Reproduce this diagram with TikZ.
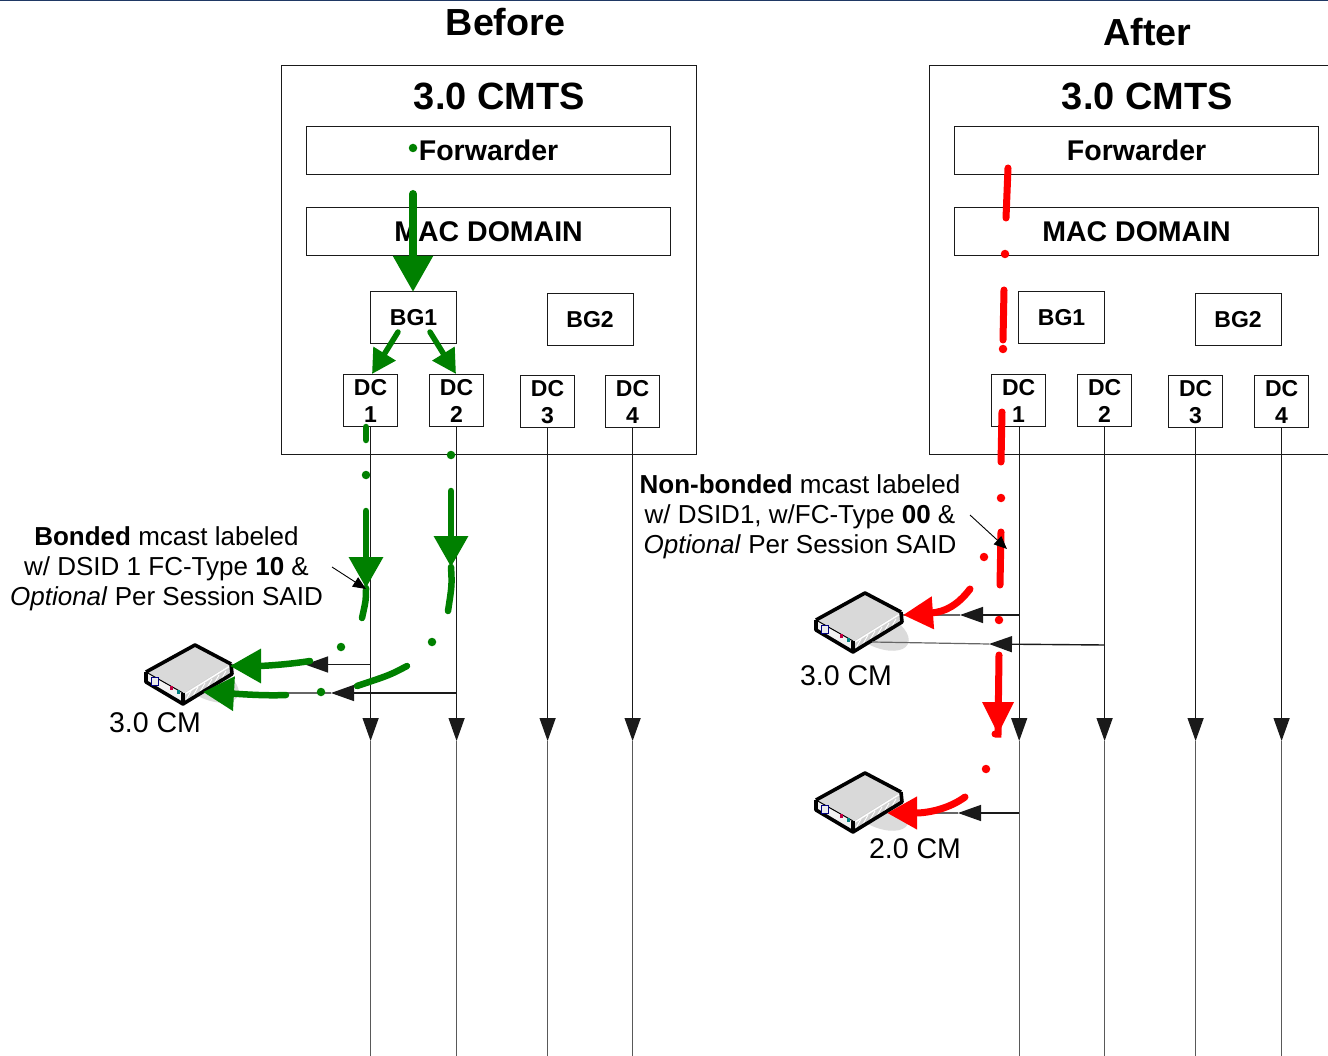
\documentclass[tikz,border=0pt]{standalone}
\usepackage{fontspec}
\setmainfont{Liberation Sans}
\usetikzlibrary{arrows.meta}
\definecolor{gr}{HTML}{008000}
\definecolor{rd}{HTML}{FF0000}
\definecolor{ink}{HTML}{1A1A1A}
\definecolor{rule}{HTML}{1F3864}
\newcommand{\fs}[1]{\fontsize{#1pt}{#1pt}\selectfont}
\tikzset{
  x=1pt,y=-1pt,
  box/.style={draw=ink,line width=0.9pt,inner sep=0pt,align=center,font=\fs{28.5}\bfseries},
  bgbox/.style={box,minimum width=86pt,minimum height=52pt,font=\fs{23}\bfseries},
  dcbox/.style={box,minimum width=54pt,minimum height=52pt,font=\fontsize{23pt}{27pt}\selectfont\bfseries},
  longbox/.style={box,minimum width=364pt,minimum height=48pt},
  title/.style={inner sep=0pt,font=\fs{37.7}\bfseries},
  cmts/.style={inner sep=0pt,font=\fs{38}\bfseries},
  cmlabel/.style={inner sep=0pt,font=\fs{28.5}},
  note/.style={inner sep=0pt,align=center,font=\fontsize{26pt}{30pt}\selectfont},
  wire/.style={draw=ink,line width=1.4pt},
  wiretip/.style={wire,-{Triangle[length=23pt,width=16pt,color=ink]}},
  feed/.style={draw=ink,line width=1.2pt},
  pointer/.style={draw=black,line width=0.9pt,-{Triangle[length=13pt,width=11pt]}},
  gs/.style={draw=gr,line width=6.5pt,line cap=round},
  rs/.style={draw=rd,line width=7pt,line cap=round},
  gbig/.style={gs,-{Triangle[length=31pt,width=33pt,color=gr]}},
  rbig/.style={rs,-{Triangle[length=30pt,width=31pt,color=rd]}},
  gdot/.style={circle,fill=gr,inner sep=0pt,minimum size=8.5pt},
  rdot/.style={circle,fill=rd,inner sep=0pt,minimum size=8.5pt},
  modem/.pic={
    \fill[black!14,rotate around={-25:(208,682)}] (208,682) ellipse (33 and 17);
    \fill[black!5] (146,672) -- (183,693) -- (183,704) -- (146,682) -- cycle;
    \fill[black!18] (183,693) -- (231,664) -- (232,674) -- (183,704) -- cycle;
    \draw[white,line width=1.4pt] (185,694) -- (230,666);
    \draw[white,line width=.9pt] (186,700) -- (191,691) (193,696) -- (198,687) (200,692) -- (205,683) (207,688) -- (212,679) (214,684) -- (219,675) (221,680) -- (226,671);
    \fill[black!15] (195,645) -- (231,664) -- (183,693) -- (146,672) -- cycle;
    \draw[black,line width=3.6pt,line join=round] (146,672) -- (195,645) -- (231,664);
    \draw[black,line width=1pt] (146,672) -- (183,693);
    \draw[black,line width=3.6pt,line join=round] (146,672) -- (146,682) -- (183,704) -- (232,674) -- (231,664) (183,693) -- (183,704);
    \draw[blue!50!black,line width=.8pt,fill=black!8] (151,677) rectangle (158,685);
    \fill[purple] (169.5,686) rectangle (173,689.5);
    \fill[teal] (176.5,690) rectangle (180,693.5);
  }
}
\begin{document}
\begin{tikzpicture}
\useasboundingbox (0,0) rectangle (1328,1056);
\fill[white] (0,0) rectangle (1328,1056);
\draw[draw=rule,line width=1.2pt] (0,0.5) -- (1328,0.5);

% ---------- Before: frame and blocks
\node[title] (before) at (505.5,22) {Before};
\node[draw=ink,line width=0.9pt,inner sep=0pt,minimum width=414.5pt,minimum height=389pt] (cmtsL) at (488.75,260) {};
\node[cmts] (cmtsLt) at (499.5,96) {3.0 CMTS};
\node[longbox] (fwdL) at (488.6,150.6) {\raisebox{1pt}{Forwarder}};
\node[longbox] (macL) at (488.6,231.6) {\raisebox{0.6pt}{MAC DOMAIN}};
\node[bgbox] (bg1L) at (413.6,317.6) {BG1};
\node[bgbox] (bg2L) at (590.1,319.6) {BG2};
\node[dcbox] (dc1L) at (370.6,400.6) {DC\\1};
\node[dcbox] (dc2L) at (456.6,400.6) {DC\\2};
\node[dcbox] (dc3L) at (547.6,401.6) {DC\\3};
\node[dcbox] (dc4L) at (632.6,401.6) {DC\\4};

% ---------- After: frame and blocks
\node[title] (after) at (1147.5,32.5) {After};
\node[draw=ink,line width=0.9pt,inner sep=0pt,minimum width=414.5pt,minimum height=389pt] (cmtsR) at (1136.75,260) {};
\node[cmts] (cmtsRt) at (1147.5,96) {3.0 CMTS};
\node[longbox] (fwdR) at (1136.6,150.6) {\raisebox{1pt}{Forwarder}};
\node[longbox] (macR) at (1136.6,231.6) {\raisebox{0.6pt}{MAC DOMAIN}};
\node[bgbox] (bg1R) at (1061.6,317.6) {BG1};
\node[bgbox] (bg2R) at (1238.1,319.6) {BG2};
\node[dcbox] (dc1R) at (1018.6,400.6) {DC\\1};
\node[dcbox] (dc2R) at (1104.6,400.6) {DC\\2};
\node[dcbox] (dc3R) at (1195.6,401.6) {DC\\3};
\node[dcbox] (dc4R) at (1281.6,401.6) {DC\\4};

% ---------- Down channels
\foreach \n/\x in {dc1L/370.6,dc2L/456.6,dc3L/547.6,dc4L/632.6,dc1R/1019.2,dc2R/1104.6,dc3R/1195.6,dc4R/1281.6}{
  \coordinate (\n m) at (\x,741);
  \coordinate (\n e) at (\x,1056);
  \draw[wiretip] (\n.south -| \n m) -- (\n m);
  \draw[wire,draw=black!65,line width=1.2pt] (\n m) -- (\n e);
}

% ---------- Modems
\pic (cmL) at (0,0) {modem};
\pic[shift={(670,-52)}] (cmR) {modem};
\pic[shift={(670,128)}] (cmO) {modem};
\node[cmlabel] (cmLt) at (155,722.5) {3.0 CM};
\node[cmlabel] (cmRt) at (846,676) {3.0 CM};
\node[cmlabel] (cmOt) at (915,849) {2.0 CM};

% ---------- Feeds to the modems
\coordinate (aL1s) at (370.6,664.5); \coordinate (aL1t) at (305,664.5); \coordinate (aL1e) at (232,664.5);
\coordinate (aL2s) at (456.6,693);   \coordinate (aL2t) at (331,693);   \coordinate (aL2e) at (232,693);
\coordinate (aR1s) at (1019.2,615); \coordinate (aR1t) at (960,615);  \coordinate (aR1e) at (903,615);
\coordinate (aR2s) at (1104.6,645);  \coordinate (aR2t) at (989,644);   \coordinate (aR2e) at (872,642);
\coordinate (aR3s) at (1019.2,813); \coordinate (aR3t) at (958,813);  \coordinate (aR3e) at (920,813);
\foreach \a in {aL1,aL2,aR1,aR2,aR3}{
  \draw[wiretip] (\a s) -- (\a t);
  \draw[feed,draw=black!60] (\a t) -- (\a e);
}

% ---------- Notes
\node[note] (noteL) at (166.5,568.5) {\textbf{Bonded} mcast labeled\\w/ DSID 1 FC-Type \textbf{10} \&\\\textit{Optional} Per Session SAID};
\node[note] (noteR) at (800,516.5) {\textbf{Non-bonded} mcast labeled\\w/ DSID1, w/FC-Type \textbf{00} \&\\\textit{Optional} Per Session SAID};

% ---------- Green path
\node[gdot] (g0) at (413,148) {};
\coordinate (g1a) at (413,194); \coordinate (g1b) at (413,292);
\draw[gs,line width=8pt,-{Triangle[length=36pt,width=38pt,color=gr]}] (g1a) -- (g1b);
\coordinate (g2a) at (398,332); \coordinate (g2b) at (372,374);
\coordinate (g3a) at (430,332); \coordinate (g3b) at (456,374);
\draw[gs,line width=5.5pt,-{Triangle[length=24pt,width=25pt,color=gr]}] (g2a) -- (g2b);
\draw[gs,line width=5.5pt,-{Triangle[length=24pt,width=25pt,color=gr]}] (g3a) -- (g3b);
\coordinate (g4a) at (366,427); \coordinate (g4b) at (366,440);
\draw[gs] (g4a) -- (g4b);
\node[gdot] (g5) at (366,475) {};
\coordinate (g6a) at (366,511); \coordinate (g6b) at (366,588); \coordinate (g6c) at (362,618);
\draw[gs] (g6b) .. controls (366,600) .. (g6c);
\draw[gbig] (g6a) -- (g6b);
\node[gdot] (g7) at (451,455) {};
\coordinate (g8a) at (451,491); \coordinate (g8b) at (451,567); \coordinate (g8c) at (448,611);
\draw[gs] (g8b) .. controls (452,585) .. (g8c);
\draw[gbig] (g8a) -- (g8b);
\node[gdot] (g9) at (341,647) {};
\node[gdot] (g10) at (432,642) {};
\coordinate (g11a) at (407,666); \coordinate (g11b) at (357,686);
\draw[gs] (g11a) .. controls (390,675) .. (g11b);
\coordinate (g12a) at (310,661); \coordinate (g12b) at (230,666);
\draw[gbig] (g12a) .. controls (285,665) and (260,666) .. (g12b);
\coordinate (g13a) at (286,695); \coordinate (g13b) at (203,692);
\draw[gbig] (g13a) .. controls (265,696) and (240,694) .. (g13b);
\node[gdot] (g14) at (321,692) {};

% ---------- Red path
\coordinate (r1a) at (1008,168); \coordinate (r1b) at (1006,218);
\draw[rs] (r1a) -- (r1b);
\node[rdot] (r2) at (1005,254) {};
\coordinate (r3a) at (1004,290); \coordinate (r3b) at (1003,340);
\draw[rs] (r3a) -- (r3b);
\node[rdot] (r4) at (1003,349) {};
\coordinate (r5a) at (1002,412); \coordinate (r5b) at (1001,462);
\draw[rs] (r5a) -- (r5b);
\node[rdot] (r6) at (1001,498) {};
\coordinate (r7a) at (1001,532); \coordinate (r7b) at (1000,585);
\draw[rs] (r7a) -- (r7b);
\node[rdot] (r8) at (984,557) {};
\coordinate (r9a) at (970,589); \coordinate (r9b) at (903,615);
\draw[rbig] (r9a) .. controls (958,605) and (945,612) .. (r9b);
\node[rdot] (r10) at (999,620) {};
\coordinate (r11a) at (999,655); \coordinate (r11b) at (998,734); \coordinate (r11c) at (995,734);
\draw[rs] (r11a) -- (r11b) -- (r11c);
\fill[rd] (982,702) -- (1014,702) -- (998,734) -- cycle;
\node[rdot] (r12) at (986,769) {};
\coordinate (r13a) at (965,797); \coordinate (r13b) at (887,813);
\draw[rbig] (r13a) .. controls (950,808) and (930,813) .. (r13b);

% ---------- Note pointers
\coordinate (pLa) at (332,567); \coordinate (pLb) at (366,589);
\coordinate (pRa) at (970,515); \coordinate (pRb) at (1007,549);
\draw[pointer] (pLa) -- (pLb);
\draw[pointer] (pRa) -- (pRb);
\end{tikzpicture}
\end{document}
